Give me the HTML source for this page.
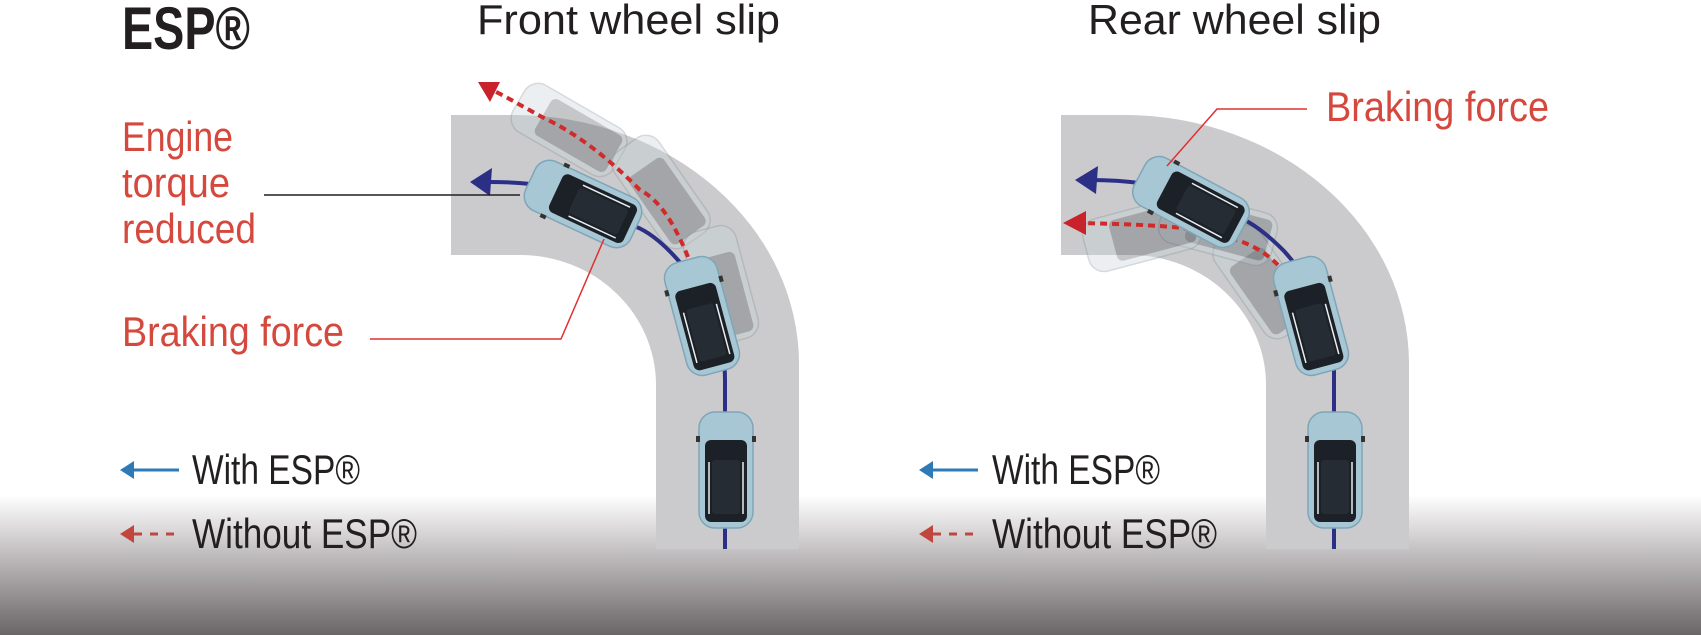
<!DOCTYPE html>
<html><head><meta charset="utf-8"><style>
html,body{margin:0;padding:0;background:#fff;}
svg{display:block}
text{font-family:"Liberation Sans Narrow","Liberation Sans",sans-serif;}
</style></head><body>
<svg width="1701" height="635" viewBox="0 0 1701 635" xmlns="http://www.w3.org/2000/svg">
<defs>
<linearGradient id="bg" x1="0" y1="0" x2="0" y2="1">
<stop offset="0" stop-color="#ffffff"/>
<stop offset="0.78" stop-color="#ffffff"/>
<stop offset="0.86" stop-color="#c9c6c7"/>
<stop offset="1" stop-color="#6a6667"/>
</linearGradient>
<g id="car">
<rect x="-27" y="-58" width="54" height="116" rx="16" fill="#a8c7d5" stroke="#7ea6b8" stroke-width="1.5"/>
<rect x="-21" y="-30" width="42" height="82" rx="6" fill="#1c2127"/>
<rect x="-14" y="-10" width="28" height="54" rx="3" fill="#262c33"/>
<line x1="-17" y1="-8" x2="-17" y2="44" stroke="#e8eef2" stroke-width="1.5"/>
<line x1="17" y1="-8" x2="17" y2="44" stroke="#e8eef2" stroke-width="1.5"/>
<rect x="-30" y="-34" width="4" height="6" fill="#333"/>
<rect x="26" y="-34" width="4" height="6" fill="#333"/>
</g>
<g id="ghost" opacity="0.35">
<rect x="-27" y="-58" width="54" height="116" rx="16" fill="#c8d4da" stroke="#8a959b" stroke-width="1.5"/>
<rect x="-21" y="-30" width="42" height="82" rx="6" fill="#5a5f64"/>
</g>
</defs>
<rect x="0" y="0" width="1701" height="635" fill="url(#bg)"/>

<path d="M451 115 H515 A285 249 0 0 1 799 364 V549 H656 V385 A136 130 0 0 0 520 255 H451 Z" fill="#cbcbcd"/>
<path d="M1061 115 H1125 A285 249 0 0 1 1409 364 V549 H1266 V385 A136 130 0 0 0 1130 255 H1061 Z" fill="#cbcbcd"/>

<text x="122" y="49" font-size="60" font-weight="bold" fill="#231f20" textLength="128" lengthAdjust="spacingAndGlyphs">ESP®</text>
<text x="477" y="34" font-size="42" fill="#231f20" textLength="303" lengthAdjust="spacingAndGlyphs">Front wheel slip</text>
<text x="1088" y="34" font-size="42" fill="#231f20" textLength="293" lengthAdjust="spacingAndGlyphs">Rear wheel slip</text>

<!-- LEFT PANEL -->
<use href="#ghost" transform="translate(569,130) rotate(-60)"/>
<use href="#ghost" transform="translate(661,192) rotate(-35)"/>
<use href="#ghost" transform="translate(721,285) rotate(-15)"/>
<path d="M725 549 V380 C725 330 705 290 677 259 C660 240 645 230 634 226 C600 190 540 182 490 182" fill="none" stroke="#2b2f86" stroke-width="4"/>
<polygon points="470,182 492,168 490,196" fill="#2b2f86"/>
<path d="M688 257 C675 225 660 200 640 190 C610 160 580 135 542 117 C520 105 505 96 492 90" fill="none" stroke="#d12a2a" stroke-width="4" stroke-dasharray="7 5"/>
<polygon points="478,82 500,82 490,102" fill="#c8232a"/>
<use href="#car" transform="translate(726,470)"/>
<use href="#car" transform="translate(702,316) rotate(-15)"/>
<use href="#car" transform="translate(583,204) rotate(-65)"/>
<text font-size="42" fill="#d5483d" x="122" y="151" textLength="111" lengthAdjust="spacingAndGlyphs">Engine</text>
<text font-size="42" fill="#d5483d" x="122" y="197" textLength="108" lengthAdjust="spacingAndGlyphs">torque</text>
<text font-size="42" fill="#d5483d" x="122" y="243" textLength="134" lengthAdjust="spacingAndGlyphs">reduced</text>
<line x1="264" y1="195" x2="520" y2="195" stroke="#231f20" stroke-width="1.5"/>
<text x="122" y="346" font-size="42" fill="#d5483d" textLength="222" lengthAdjust="spacingAndGlyphs">Braking force</text>
<polyline points="370,339 561,339 604,239" fill="none" stroke="#e03030" stroke-width="1.5"/>
<line x1="132" y1="470" x2="179" y2="470" stroke="#2e7ab6" stroke-width="3"/>
<polygon points="120,470 134,461 134,479" fill="#2e7ab6"/>
<text x="192" y="484" font-size="42" fill="#231f20" textLength="168" lengthAdjust="spacingAndGlyphs">With ESP®</text>
<line x1="134" y1="534" x2="179" y2="534" stroke="#c1463f" stroke-width="3" stroke-dasharray="8 8"/>
<polygon points="120,534 134,525 134,543" fill="#c1463f"/>
<text x="192" y="548" font-size="42" fill="#231f20" textLength="225" lengthAdjust="spacingAndGlyphs">Without ESP®</text>

<!-- RIGHT PANEL -->
<use href="#ghost" transform="translate(1262,282) rotate(-35)"/>
<use href="#ghost" transform="translate(1218,228) rotate(-75)"/>
<use href="#ghost" transform="translate(1142,234) rotate(-105)"/>
<path d="M1334 549 V364 C1334 320 1310 280 1284 251 C1265 232 1250 222 1240 218 C1190 185 1130 180 1090 180" fill="none" stroke="#2b2f86" stroke-width="4"/>
<polygon points="1075,180 1098,166 1096,194" fill="#2b2f86"/>
<path d="M1278 265 C1265 252 1250 243 1229 238 C1200 228 1170 225 1080 223" fill="none" stroke="#d12a2a" stroke-width="4" stroke-dasharray="7 5"/>
<polygon points="1063,223 1086,211 1086,235" fill="#c8232a"/>
<use href="#car" transform="translate(1335,470)"/>
<use href="#car" transform="translate(1311,316) rotate(-15)"/>
<use href="#car" transform="translate(1191,202) rotate(-62)"/>
<text x="1326" y="121" font-size="42" fill="#d5483d" textLength="223" lengthAdjust="spacingAndGlyphs">Braking force</text>
<polyline points="1307,109 1217,109 1167,166" fill="none" stroke="#e03030" stroke-width="1.5"/>
<line x1="932" y1="470" x2="978" y2="470" stroke="#2e7ab6" stroke-width="3"/>
<polygon points="919,470 933,461 933,479" fill="#2e7ab6"/>
<text x="992" y="484" font-size="42" fill="#231f20" textLength="168" lengthAdjust="spacingAndGlyphs">With ESP®</text>
<line x1="933" y1="534" x2="978" y2="534" stroke="#c1463f" stroke-width="3" stroke-dasharray="8 8"/>
<polygon points="919,534 933,525 933,543" fill="#c1463f"/>
<text x="992" y="548" font-size="42" fill="#231f20" textLength="225" lengthAdjust="spacingAndGlyphs">Without ESP®</text>
</svg>
</body></html>
